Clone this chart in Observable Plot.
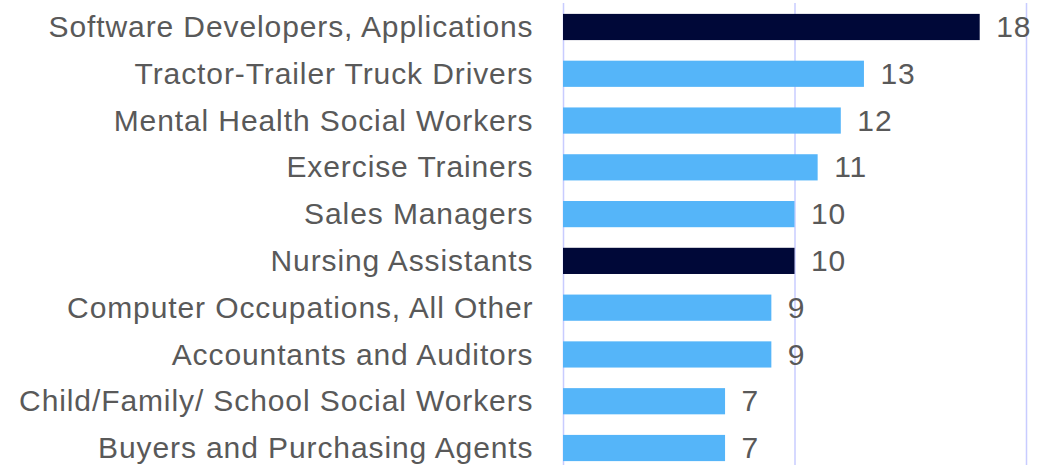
<!DOCTYPE html>
<html>
<head>
<meta charset="utf-8">
<script src="https://cdn.jsdelivr.net/npm/d3@7"></script>
<script src="https://cdn.jsdelivr.net/npm/@observablehq/plot@0.6"></script>
<style>
  body { margin: 0; background: #fff; }
  svg { display: block; }
</style>
</head>
<body>
<div id="chart"></div>
<script>
const occupations = [
  "Software Developers, Applications",
  "Tractor-Trailer Truck Drivers",
  "Mental Health Social Workers",
  "Exercise Trainers",
  "Sales Managers",
  "Nursing Assistants",
  "Computer Occupations, All Other",
  "Accountants and Auditors",
  "Child/Family/ School Social Workers",
  "Buyers and Purchasing Agents"
];
const values = [18, 13, 12, 11, 10, 10, 9, 9, 7, 7];
const highlighted = ["Software Developers, Applications", "Nursing Assistants"];
const gridTicks = [0, 10, 20];

const data = occupations.map((o, i) => ({ occupation: o, value: values[i], hl: highlighted.includes(o) }));

const chart = Plot.plot({
  width: 1050,
  height: 465,
  marginLeft: 563,
  marginRight: 24,
  marginTop: 3,
  marginBottom: 0,
  style: { fontFamily: "'Liberation Sans', Arial, sans-serif", background: "#fff", letterSpacing: "0.9px" },
  x: { domain: [0, 20], range: [563, 1026], axis: null },
  y: { domain: occupations, range: [3.6, 471.4], paddingInner: 0.44, paddingOuter: 0.22, round: false, label: null },
  marks: [
    Plot.ruleX(gridTicks, { stroke: "#c8ccff", strokeWidth: 1.5 }),
    Plot.barX(data, { x: "value", y: "occupation", fill: d => d.hl ? "#000838" : "#55b5f9" }),
    Plot.text(data, { x: "value", y: "occupation", text: d => String(d.value), textAnchor: "start", dx: 16, fill: "#595959", fontSize: 30 }),
    Plot.axisY({ tickSize: 0, tickPadding: 30, fontSize: 30, color: "#595959", label: null })
  ]
});
document.getElementById("chart").appendChild(chart);
</script>
</body>
</html>
